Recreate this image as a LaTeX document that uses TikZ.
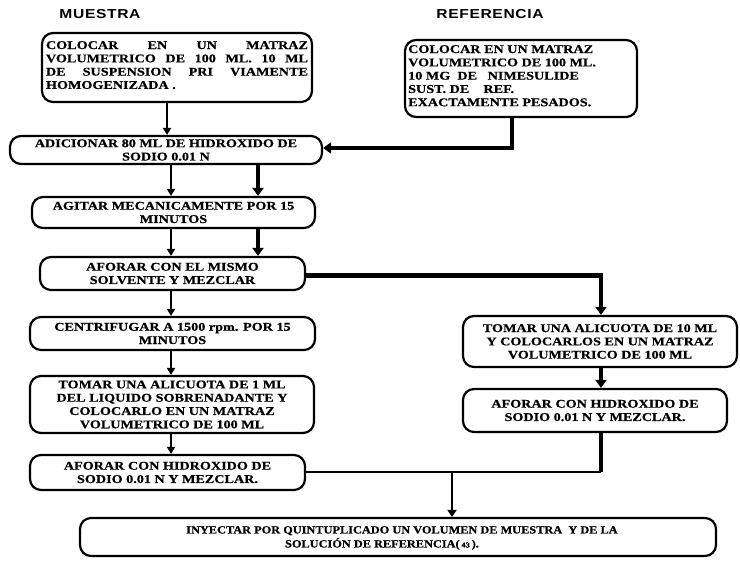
\documentclass[tikz,border=0pt]{standalone}
\usepackage{fontspec}
\setmainfont{Liberation Serif}
\newfontfamily\boxfont{Liberation Serif Bold}[FakeStretch=1.2,FakeBold=0.6]
\newfontfamily\botfont{Liberation Serif Bold}[FakeStretch=1.12,FakeBold=0.6]
\newfontfamily\titlefont{Liberation Sans Bold}[FakeStretch=1.2,LetterSpace=5]
\usetikzlibrary{arrows.meta,calc}
\begin{document}
\begin{tikzpicture}[x=1pt,y=-1pt,
  box/.style={draw, line width=2.2pt, rounded corners=11pt, inner sep=0pt},
  txt/.style={font=\boxfont\fontsize{11.8}{13.3}\selectfont, inner sep=0pt, align=center},
  ttl/.style={font=\titlefont\fontsize{13}{15}\selectfont, inner sep=0pt},
  thinarr/.style={line width=2.2pt, -{Triangle[length=7pt,width=8pt]}},
  thickarr/.style={line width=4.4pt, -{Triangle[length=8pt,width=11pt]}},
  thickline/.style={line width=4.4pt},
  medline/.style={line width=2.6pt},
  medarr/.style={line width=2.6pt, -{Triangle[length=7pt,width=9pt]}},
]
\path[use as bounding box] (0,0) rectangle (740,561);

% titles
\node[ttl] (tm) at (100,14) {MUESTRA};
\node[ttl] (tr) at (490,14) {REFERENCIA};

% columns
\coordinate (L1) at (167,0);
\coordinate (L2) at (171,0);
\coordinate (T2) at (258,0);
\coordinate (K) at (512,0);
\coordinate (R) at (601,0);

% boxes
\node[box, minimum width=270, minimum height=69] (b1) at (177,67.5) {};
\node[txt, text width=262, align=justify, anchor=north] (b1t) at (177,41)
  {COLOCAR EN UN MATRAZ\linebreak VOLUMETRICO DE 100 ML. 10 ML\linebreak DE SUSPENSION PRI VIAMENTE\linebreak HOMOGENIZADA .};

\node[box, minimum width=232, minimum height=77] (ref) at (521,78.5) {};
\node[txt, align=left, anchor=north west] (reft) at (408,45)
  {COLOCAR EN UN MATRAZ\\VOLUMETRICO DE 100 ML.\\10 MG~~DE~~~NIMESULIDE\\SUST. DE~~~~REF.\\EXACTAMENTE PESADOS.};

\node[box, txt, minimum width=312, minimum height=28] (b2) at (166,150)
  {ADICIONAR 80 ML DE HIDROXIDO DE\\SODIO 0.01 N};
\node[box, txt, minimum width=283, minimum height=31] (b3) at (173.5,212.5)
  {AGITAR MECANICAMENTE POR 15\\MINUTOS};
\node[box, txt, minimum width=265, minimum height=33] (b4) at (172.5,273.5)
  {AFORAR CON EL MISMO\\SOLVENTE Y MEZCLAR};
\node[box, txt, minimum width=285, minimum height=33] (b5) at (172.5,333.5)
  {CENTRIFUGAR A 1500 rpm. POR 15\\MINUTOS};
\node[box, txt, minimum width=284, minimum height=57] (b6) at (172,404.5)
  {TOMAR UNA ALICUOTA DE 1 ML\\DEL LIQUIDO SOBRENADANTE Y\\COLOCARLO EN UN MATRAZ\\VOLUMETRICO DE 100 ML};
\node[box, txt, minimum width=275, minimum height=35] (b7) at (167.5,472.5)
  {AFORAR CON HIDROXIDO DE\\SODIO 0.01 N Y MEZCLAR.};

\node[box, txt, minimum width=274, minimum height=51] (r2) at (600,341.5)
  {TOMAR UNA ALICUOTA DE 10 ML\\Y COLOCARLOS EN UN MATRAZ\\VOLUMETRICO DE 100 ML};
\node[box, txt, minimum width=264, minimum height=43] (r3) at (595,410.5)
  {AFORAR CON HIDROXIDO DE\\SODIO 0.01 N Y MEZCLAR.};

\node[box, minimum width=636, minimum height=38] (bot) at (398,537) {};
\node[txt, font=\botfont\fontsize{11}{14}\selectfont] (bott) at (402,538)
  {INYECTAR POR QUINTUPLICADO UN VOLUMEN DE MUESTRA~~Y DE LA\\SOLUCIÓN DE REFERENCIA(\,{\fontsize{7.5}{8}\selectfont 43}\,).\hspace*{40pt}};

% connectors
\draw[thinarr] (b1.south -| L1) -- (b2.north -| L1);
\draw[thickarr] (ref.south -| K) |- ([yshift=2]b2.east);
\draw[thinarr] (b2.south -| L2) -- (b3.north -| L2);
\draw[thickarr] (b2.south -| T2) -- (b3.north -| T2);
\draw[thinarr] (b3.south -| L2) -- (b4.north -| L2);
\draw[thickarr] (b3.south -| T2) -- (b4.north -| T2);
\draw[thinarr] (b4.south -| L2) -- (b5.north -| L2);
\draw[thinarr] (b5.south -| L2) -- (b6.north -| L2);
\draw[thinarr] (b6.south -| L2) -- (b7.north -| L2);
\draw[thickarr] ([yshift=-2]b4.east) -| (r2.north -| R);
\draw[thickarr] (r2.south -| R) -- (r3.north -| R);
\coordinate (M) at (452,472);
\draw[thickline] (r3.south -| R) -- (M -| R);
\draw[medline] (b7.east |- M) -- (M -| R);
\draw[medarr] (M) -- (bot.north -| M);
\end{tikzpicture}
\end{document}
